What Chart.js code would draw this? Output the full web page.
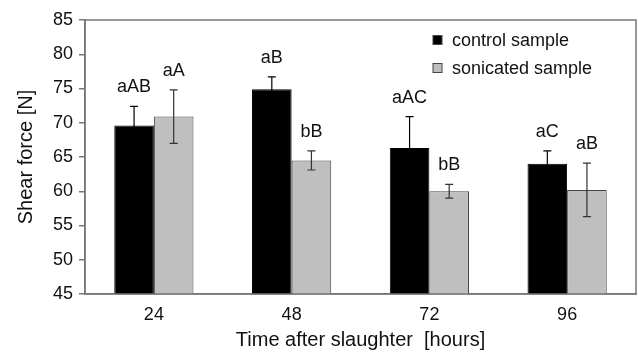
<!DOCTYPE html>
<html>
<head>
<meta charset="utf-8">
<script src="https://cdn.jsdelivr.net/npm/chart.js@4"></script>
<style>
  html, body { margin: 0; padding: 0; background: #fff; }
  #wrap { width: 638px; height: 352px; }
</style>
</head>
<body>
<div id="wrap"><canvas id="shearChart" width="638" height="352"></canvas></div>
<script>
// Shear force over time after slaughter
const timeLabels = ['24', '48', '72', '96'];

const controlValues = [69.6, 74.9, 66.3, 64.0];
const controlErrors = [2.8, 1.8, 4.6, 1.9];
const controlLetters = ['aAB', 'aB', 'aAC', 'aC'];

const sonicatedValues = [70.9, 64.5, 60.0, 60.2];
const sonicatedErrors = [3.9, 1.4, 1.0, 3.9];
const sonicatedLetters = ['aA', 'bB', 'bB', 'aB'];

const yTicks = [45, 50, 55, 60, 65, 70, 75, 80, 85];

const FONT = 'Liberation Sans, Arial, sans-serif';

// error bars, significance letters, frame and legend
const extrasPlugin = {
  id: 'extras',
  afterDatasetsDraw(chart) {
    const ctx = chart.ctx;
    const yScale = chart.scales.y;
    const errs = [controlErrors, sonicatedErrors];
    const letters = [controlLetters, sonicatedLetters];

    ctx.save();
    chart.data.datasets.forEach((ds, di) => {
      const meta = chart.getDatasetMeta(di);
      meta.data.forEach((bar, i) => {
        const v = ds.data[i];
        const top = yScale.getPixelForValue(v + errs[di][i]);
        const bot = yScale.getPixelForValue(v - errs[di][i]);
        ctx.strokeStyle = di === 0 ? '#000' : '#333';
        ctx.lineWidth = 1.2;
        ctx.beginPath();
        ctx.moveTo(bar.x, top);
        ctx.lineTo(bar.x, bot);
        ctx.moveTo(bar.x - 4, top);
        ctx.lineTo(bar.x + 4, top);
        ctx.moveTo(bar.x - 4, bot);
        ctx.lineTo(bar.x + 4, bot);
        ctx.stroke();

        ctx.fillStyle = '#111';
        ctx.font = '18px ' + FONT;
        ctx.textAlign = 'center';
        ctx.textBaseline = 'middle';
        ctx.fillText(letters[di][i], bar.x, top - 19);
      });
    });

    // plot frame
    const a = chart.chartArea;
    ctx.strokeStyle = '#777';
    ctx.lineWidth = 1.5;
    ctx.strokeRect(a.left, a.top, a.right - a.left, a.bottom - a.top);

    // legend
    ctx.font = '18px ' + FONT;
    ctx.textAlign = 'left';
    ctx.textBaseline = 'middle';
    chart.data.datasets.forEach((ds, di) => {
      const y = 40 + di * 28;
      ctx.fillStyle = ds.backgroundColor;
      ctx.fillRect(433, y - 4.5, 9, 9);
      ctx.strokeStyle = '#444';
      ctx.lineWidth = 1;
      ctx.strokeRect(433, y - 4.5, 9, 9);
      ctx.fillStyle = '#111';
      ctx.fillText(ds.label, 452, y + 1);
    });
    ctx.restore();
  }
};

const ctx = document.getElementById('shearChart').getContext('2d');
const shearChart = new Chart(ctx, {
  type: 'bar',
  data: {
    labels: timeLabels,
    datasets: [
      {
        label: 'control sample',
        data: controlValues,
        backgroundColor: '#000000',
        borderColor: '#000000',
        borderWidth: 1
      },
      {
        label: 'sonicated sample',
        data: sonicatedValues,
        backgroundColor: '#bfbfbf',
        borderColor: '#444444',
        borderWidth: 1
      }
    ]
  },
  options: {
    responsive: false,
    animation: false,
    layout: { padding: { top: 20, right: 2, left: 0, bottom: 0 } },
    plugins: {
      legend: { display: false },
      tooltip: { enabled: false }
    },
    datasets: {
      bar: { categoryPercentage: 0.575, barPercentage: 1 }
    },
    scales: {
      x: {
        grid: { display: false },
        border: { display: true, color: '#777', width: 1.5 },
        ticks: {
          color: '#111',
          font: { family: FONT, size: 18 },
          padding: 2
        },
        title: {
          display: true,
          text: 'Time after slaughter  [hours]',
          color: '#111',
          font: { family: FONT, size: 20 },
          padding: { top: 2, bottom: 0 }
        },
        afterFit(scale) { scale.height = 58; }
      },
      y: {
        min: 45,
        max: 85,
        afterBuildTicks(scale) {
          scale.ticks = yTicks.map(v => ({ value: v }));
        },
        grid: {
          drawOnChartArea: false,
          drawTicks: true,
          tickLength: 6,
          color: '#777',
          lineWidth: 1.5
        },
        border: { display: true, color: '#777', width: 1.5 },
        ticks: {
          color: '#111',
          font: { family: FONT, size: 18 },
          padding: 6
        },
        title: {
          display: true,
          text: 'Shear force [N]',
          color: '#111',
          font: { family: FONT, size: 20 },
          padding: { top: 14, bottom: 0 }
        },
        afterFit(scale) { scale.width = 85; }
      }
    }
  },
  plugins: [extrasPlugin]
});
</script>
</body>
</html>
